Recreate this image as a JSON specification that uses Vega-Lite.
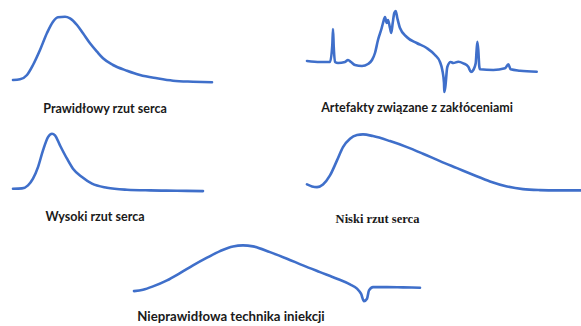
{
  "$schema": "https://vega.github.io/schema/vega-lite/v6.json",
  "padding": 0,
  "spacing": 10,
  "background": "white",
  "config": {
    "view": {"stroke": null},
    "line": {"color": "#3f6fca", "strokeWidth": 2.6, "interpolate": "monotone", "strokeCap": "round", "strokeJoin": "round"},
    "title": {"orient": "bottom", "anchor": "middle", "baseline": "top", "font": "Lato", "fontSize": 12.5, "fontWeight": "bold", "color": "#1a1a1a"}
  },
  "vconcat": [
    {
      "hconcat": [
        {
          "width": 290, "height": 95,
          "title": {"text": "Prawidłowy rzut serca", "dx": -40, "offset": 8.1},
          "data": {"values": [
            {"t": 0, "c": 2}, {"t": 0.7, "c": 2.7}, {"t": 1.4, "c": 7}, {"t": 2.0, "c": 17}, {"t": 2.7, "c": 32},
            {"t": 3.4, "c": 49}, {"t": 4.0, "c": 60.3}, {"t": 4.5, "c": 64.7}, {"t": 5.2, "c": 65.3}, {"t": 5.7, "c": 63.7},
            {"t": 6.4, "c": 57}, {"t": 7.0, "c": 48.7}, {"t": 7.7, "c": 38.7}, {"t": 8.4, "c": 30.3}, {"t": 9.0, "c": 23.7},
            {"t": 10.0, "c": 17}, {"t": 11.4, "c": 11.3}, {"t": 12.7, "c": 7}, {"t": 14.4, "c": 3.7}, {"t": 16.0, "c": 1.3},
            {"t": 18.0, "c": 0.3}, {"t": 19.9, "c": -0.3}
          ]},
          "mark": "line",
          "encoding": {
            "x": {"field": "t", "type": "quantitative", "axis": null, "scale": {"domain": [-1.3, 27.7], "nice": false, "zero": false}},
            "y": {"field": "c", "type": "quantitative", "axis": null, "scale": {"domain": [-13, 82], "nice": false, "zero": false}}
          }
        },
        {
          "width": 281, "height": 95,
          "title": {"text": "Artefakty związane z zakłóceniami", "dx": -23.5, "offset": 7.1},
          "data": {"values": [
            {"t": 0, "c": 1}, {"t": 1.3, "c": 0}, {"t": 2.3, "c": 0}, {"t": 2.53, "c": 17}, {"t": 2.6, "c": 33},
            {"t": 2.67, "c": 16}, {"t": 2.8, "c": 0}, {"t": 3.1, "c": -1}, {"t": 3.8, "c": 0}, {"t": 4.1, "c": 2},
            {"t": 4.4, "c": 0}, {"t": 4.8, "c": -3}, {"t": 5.5, "c": -4}, {"t": 6.1, "c": -2}, {"t": 6.5, "c": 2},
            {"t": 6.8, "c": 9}, {"t": 7.1, "c": 22}, {"t": 7.47, "c": 34}, {"t": 7.6, "c": 39}, {"t": 7.8, "c": 45},
            {"t": 7.97, "c": 39}, {"t": 8.1, "c": 42}, {"t": 8.3, "c": 34}, {"t": 8.43, "c": 29}, {"t": 8.57, "c": 39},
            {"t": 8.73, "c": 49}, {"t": 8.87, "c": 51}, {"t": 9.03, "c": 44}, {"t": 9.3, "c": 34}, {"t": 9.97, "c": 25},
            {"t": 10.97, "c": 19}, {"t": 11.97, "c": 14}, {"t": 12.8, "c": 7}, {"t": 13.3, "c": 0}, {"t": 13.53, "c": -8},
            {"t": 13.7, "c": -21}, {"t": 13.73, "c": -30}, {"t": 13.83, "c": -25}, {"t": 14.03, "c": -5}, {"t": 14.37, "c": 0},
            {"t": 14.63, "c": -1}, {"t": 15.13, "c": 0.3}, {"t": 15.63, "c": -1.3}, {"t": 16.13, "c": -4.7}, {"t": 16.4, "c": -10},
            {"t": 16.63, "c": -8}, {"t": 16.87, "c": -1.3}, {"t": 17.03, "c": 20.3}, {"t": 17.13, "c": 12}, {"t": 17.23, "c": -4.7},
            {"t": 17.3, "c": -7.3}, {"t": 18.63, "c": -8}, {"t": 19.8, "c": -6.3}, {"t": 20.13, "c": -2.3}, {"t": 20.37, "c": -7.3},
            {"t": 21.3, "c": -8.7}, {"t": 22.97, "c": -9.7}
          ]},
          "mark": "line",
          "encoding": {
            "x": {"field": "t", "type": "quantitative", "axis": null, "scale": {"domain": [-0.7, 27.4], "nice": false, "zero": false}},
            "y": {"field": "c", "type": "quantitative", "axis": null, "scale": {"domain": [-33, 62], "nice": false, "zero": false}}
          }
        }
      ],
      "spacing": 10
    },
    {
      "hconcat": [
        {
          "width": 290, "height": 70,
          "title": {"text": "Wysoki rzut serca", "dx": -50, "offset": 14.5},
          "data": {"values": [
            {"t": 0, "c": 2.7}, {"t": 0.9, "c": 3}, {"t": 1.5, "c": 6}, {"t": 2.0, "c": 12.7}, {"t": 2.5, "c": 24.3},
            {"t": 3.0, "c": 41}, {"t": 3.5, "c": 54.3}, {"t": 3.9, "c": 57.7}, {"t": 4.2, "c": 56}, {"t": 4.7, "c": 46},
            {"t": 5.4, "c": 32.7}, {"t": 6.0, "c": 22.7}, {"t": 6.9, "c": 14.3}, {"t": 7.9, "c": 7.7}, {"t": 9.4, "c": 3.7},
            {"t": 11.4, "c": 1.7}, {"t": 13.7, "c": 1}, {"t": 16.4, "c": 0.7}, {"t": 19.0, "c": 0.3}
          ]},
          "mark": "line",
          "encoding": {
            "x": {"field": "t", "type": "quantitative", "axis": null, "scale": {"domain": [-1.3, 27.7], "nice": false, "zero": false}},
            "y": {"field": "c", "type": "quantitative", "axis": null, "scale": {"domain": [-4.6, 65.4], "nice": false, "zero": false}}
          }
        },
        {
          "width": 281, "height": 70,
          "title": {"text": "Niski rzut serca", "dx": -63, "offset": 16.5, "font": "Liberation Serif", "fontSize": 12.5},
          "data": {"values": [
            {"t": 0, "c": 5}, {"t": 0.5, "c": 3}, {"t": 1.0, "c": 2.3}, {"t": 1.6, "c": 5}, {"t": 2.3, "c": 14},
            {"t": 3.0, "c": 29}, {"t": 3.6, "c": 42.3}, {"t": 4.3, "c": 50.7}, {"t": 5.0, "c": 54.3}, {"t": 5.6, "c": 55},
            {"t": 6.6, "c": 53.3}, {"t": 8.3, "c": 48.3}, {"t": 10.0, "c": 42.3}, {"t": 11.6, "c": 35.7}, {"t": 13.3, "c": 28.3},
            {"t": 15.0, "c": 21.3}, {"t": 16.6, "c": 14.7}, {"t": 18.3, "c": 8}, {"t": 20.0, "c": 3}, {"t": 21.6, "c": 0.3},
            {"t": 23.3, "c": -0.7}, {"t": 25.0, "c": -1}, {"t": 27.4, "c": -1}
          ]},
          "mark": "line",
          "encoding": {
            "x": {"field": "t", "type": "quantitative", "axis": null, "scale": {"domain": [-0.7, 27.4], "nice": false, "zero": false}},
            "y": {"field": "c", "type": "quantitative", "axis": null, "scale": {"domain": [-6.6, 63.4], "nice": false, "zero": false}}
          }
        }
      ],
      "spacing": 10
    },
    {
      "width": 581, "height": 70,
      "title": {"text": "Nieprawidłowa technika iniekcji", "dx": -59.5, "offset": 6, "fontSize": 13.2},
      "data": {"values": [
        {"t": 0, "c": 0.3}, {"t": 0.9, "c": 1.7}, {"t": 1.9, "c": 5}, {"t": 3.3, "c": 11}, {"t": 4.6, "c": 18.3},
        {"t": 5.9, "c": 26}, {"t": 7.3, "c": 33.7}, {"t": 8.6, "c": 40.3}, {"t": 9.9, "c": 45}, {"t": 10.9, "c": 46},
        {"t": 11.9, "c": 45}, {"t": 13.6, "c": 39.3}, {"t": 15.3, "c": 32.7}, {"t": 16.9, "c": 26}, {"t": 18.6, "c": 19.3},
        {"t": 20.3, "c": 12.7}, {"t": 21.6, "c": 7}, {"t": 22.3, "c": 2.7}, {"t": 22.7, "c": -2.3}, {"t": 23.0, "c": -9.7},
        {"t": 23.3, "c": -7.3}, {"t": 23.5, "c": 1}, {"t": 23.9, "c": 4.3}, {"t": 25.3, "c": 4.3}, {"t": 26.9, "c": 4},
        {"t": 28.6, "c": 3.7}
      ]},
      "mark": "line",
      "encoding": {
        "x": {"field": "t", "type": "quantitative", "axis": null, "scale": {"domain": [-13.4, 44.7], "nice": false, "zero": false}},
        "y": {"field": "c", "type": "quantitative", "axis": null, "scale": {"domain": [-13.6, 56.4], "nice": false, "zero": false}}
      }
    }
  ]
}
